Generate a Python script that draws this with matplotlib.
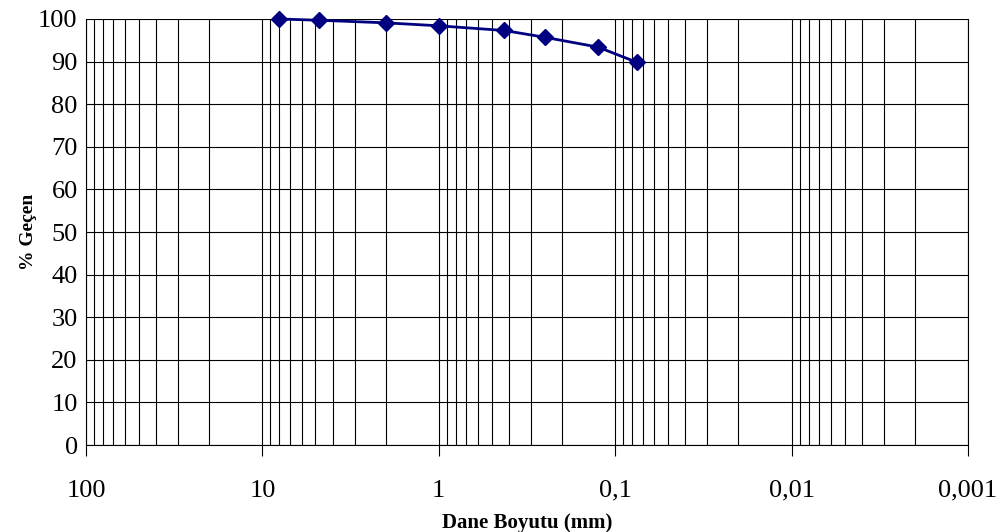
import matplotlib.pyplot as plt
from matplotlib.ticker import FixedLocator, FuncFormatter, LogLocator, NullFormatter

# Sieve sizes (mm) and percent passing.
sieve_mm = [8, 4.75, 2, 1, 0.425, 0.25, 0.125, 0.075]
passing = [100, 99.7, 99.1, 98.4, 97.3, 95.7, 93.4, 89.8]

x_majors = [100, 10, 1, 0.1, 0.01, 0.001]
x_labels = ["100", "10", "1", "0,1", "0,01", "0,001"]
y_ticks = list(range(0, 101, 10))

plt.rcParams['font.family'] = ['Liberation Serif', 'DejaVu Serif']

fig = plt.figure(figsize=(10.08, 5.32), dpi=100)
ax = fig.add_axes([0.0853, 0.1635, 0.875, 0.8008])

ax.plot(sieve_mm, passing, color="#000080", linewidth=2, marker="D",
        markersize=8, zorder=3, clip_on=False)

ax.set_xscale("log")
ax.set_xlim(100, 0.001)
ax.set_ylim(0, 100)

ax.xaxis.set_major_locator(FixedLocator(x_majors))
ax.xaxis.set_major_formatter(FuncFormatter(
    lambda v, p: x_labels[x_majors.index(min(x_majors, key=lambda m: abs(m - v) / m))]))
ax.xaxis.set_minor_locator(LogLocator(base=10, subs=range(2, 10), numticks=20))
ax.xaxis.set_minor_formatter(NullFormatter())
ax.set_yticks(y_ticks)

ax.grid(True, which="major", axis="both", color="black", linewidth=0.8)
ax.grid(True, which="minor", axis="x", color="black", linewidth=0.8)

ax.tick_params(axis="x", which="major", direction="out", length=8, width=0.8,
               labelsize=19, pad=17)
ax.tick_params(axis="x", which="minor", length=0)
ax.tick_params(axis="y", which="major", length=0, labelsize=19, pad=6)

for s in ax.spines.values():
    s.set_color("black")
    s.set_linewidth(0.8)
ax.spines["top"].set_visible(False)

ax.set_xlabel("Dane Boyutu (mm)", fontsize=15, fontweight="bold", labelpad=8)
ax.set_ylabel("% Geçen", fontsize=14, fontweight="bold", labelpad=1)

fig.savefig("out.png", dpi=100)
